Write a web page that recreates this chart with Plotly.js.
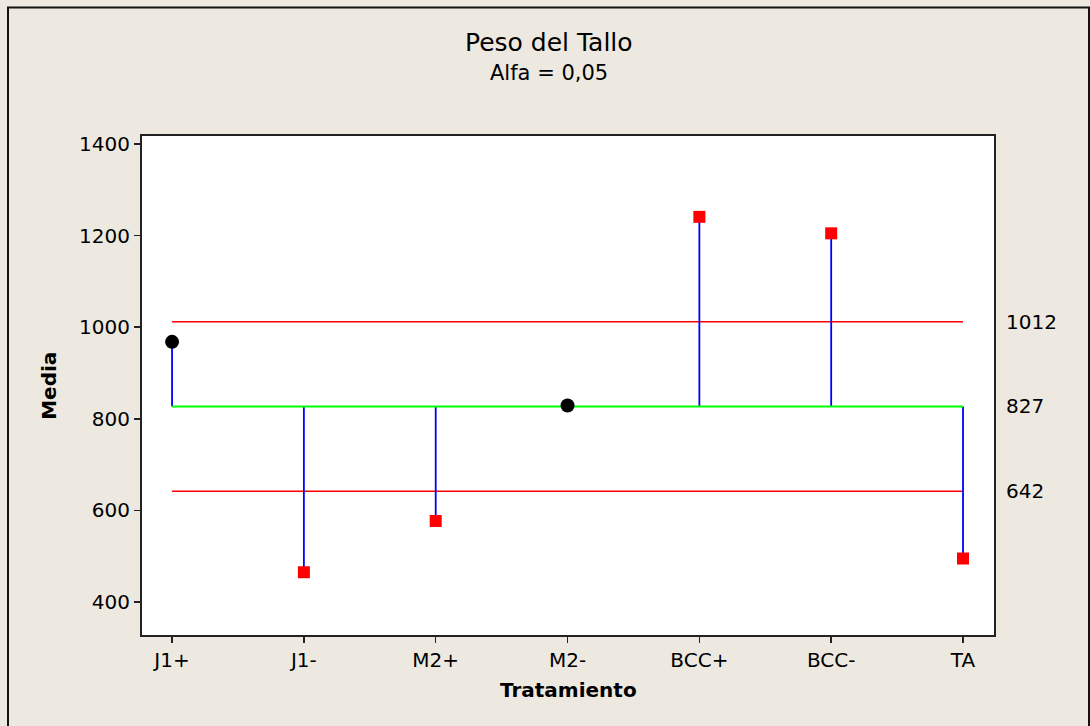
<!DOCTYPE html>
<html>
<head>
<meta charset="utf-8">
<script src="https://cdn.plot.ly/plotly-3.0.1.min.js"></script>
<style>
  html, body { margin: 0; padding: 0; background: #EDE9E0; }
  #chart { width: 1090px; height: 726px; }
</style>
</head>
<body>
<div id="chart"></div>
<script>
// Data
const categories = ["J1+", "J1-", "M2+", "M2-", "BCC+", "BCC-", "TA"];
const means = [968, 465, 577, 829, 1241, 1205, 495];
const centerLine = 827;
const upperLimit = 1012;
const lowerLimit = 642;
const yTicks = [400, 600, 800, 1000, 1200, 1400];
const titleText = "Peso del Tallo";
const subtitleText = "Alfa = 0,05";
const xTitle = "Tratamiento";
const yTitle = "Media";

const FONT = "DejaVu Sans, sans-serif";
const first = categories[0], last = categories[categories.length - 1];

// Stems from center line to each mean
const stemX = [], stemY = [];
categories.forEach((c, i) => { stemX.push(c, c, null); stemY.push(centerLine, means[i], null); });

const outX = [], outY = [], inX = [], inY = [];
categories.forEach((c, i) => {
  if (means[i] > upperLimit || means[i] < lowerLimit) { outX.push(c); outY.push(means[i]); }
  else { inX.push(c); inY.push(means[i]); }
});

const traces = [
  { x: [first, last], y: [upperLimit, upperLimit], mode: "lines", line: { color: "#FF0000", width: 1.5 }, hoverinfo: "skip" },
  { x: [first, last], y: [lowerLimit, lowerLimit], mode: "lines", line: { color: "#FF0000", width: 1.5 }, hoverinfo: "skip" },
  { x: stemX, y: stemY, mode: "lines", line: { color: "#0000FF", width: 1.8 }, connectgaps: false, hoverinfo: "skip" },
  { x: [first, last], y: [centerLine, centerLine], mode: "lines", line: { color: "#00FF00", width: 2 }, hoverinfo: "skip" },
  { x: outX, y: outY, mode: "markers", marker: { symbol: "square", size: 12, color: "#FF0000" } },
  { x: inX, y: inY, mode: "markers", marker: { symbol: "circle", size: 14, color: "#000000" } }
];

const annotations = [
  { text: titleText, xref: "paper", yref: "paper", x: 0.478, y: 1.188, xanchor: "center", yanchor: "middle", showarrow: false, font: { family: FONT, size: 25, color: "#000" } },
  { text: subtitleText, xref: "paper", yref: "paper", x: 0.478, y: 1.126, xanchor: "center", yanchor: "middle", showarrow: false, font: { family: FONT, size: 21, color: "#000" } },
  { text: "<b>" + xTitle + "</b>", xref: "paper", yref: "paper", x: 0.5, y: -0.11, xanchor: "center", yanchor: "middle", showarrow: false, font: { family: FONT, size: 20, color: "#000" } },
  { text: "<b>" + yTitle + "</b>", xref: "paper", yref: "paper", x: -0.110, y: 0.5, xanchor: "center", yanchor: "middle", textangle: -90, showarrow: false, font: { family: FONT, size: 20, color: "#000" } }
];
[upperLimit, centerLine, lowerLimit].forEach(v => {
  annotations.push({ text: String(v), xref: "paper", yref: "y", x: 1.012, y: v, xanchor: "left", yanchor: "middle", showarrow: false, font: { family: FONT, size: 20, color: "#000" } });
});

const layout = {
  width: 1090, height: 726,
  margin: { l: 142, r: 96, t: 136, b: 91 },
  paper_bgcolor: "#EDE9E0",
  plot_bgcolor: "#FFFFFF",
  showlegend: false,
  font: { family: FONT, size: 20, color: "#000" },
  xaxis: {
    type: "category", categoryorder: "array", categoryarray: categories,
    range: [-0.228, 6.235], showgrid: false, zeroline: false,
    ticks: "outside", ticklen: 6, tickwidth: 1.5, tickcolor: "#222",
    showline: true, linecolor: "#222", linewidth: 2, mirror: true,
    tickfont: { family: FONT, size: 20, color: "#000" }
  },
  yaxis: {
    range: [328, 1417.5], tickvals: yTicks, ticktext: yTicks.map(String),
    showgrid: false, zeroline: false,
    ticks: "outside", ticklen: 6, tickwidth: 1.5, tickcolor: "#222",
    showline: true, linecolor: "#222", linewidth: 2, mirror: true,
    tickfont: { family: FONT, size: 20, color: "#000" }
  },
  annotations: annotations,
  shapes: [
    { type: "rect", xref: "paper", yref: "paper", x0: (8 - 142) / 852, x1: (1089 - 142) / 852, y0: (635 - 740) / 499, y1: (635 - 7.5) / 499, line: { color: "#111", width: 2 }, fillcolor: "rgba(0,0,0,0)", layer: "below" }
  ]
};

Plotly.newPlot("chart", traces, layout, { displayModeBar: false, staticPlot: true });
</script>
</body>
</html>
